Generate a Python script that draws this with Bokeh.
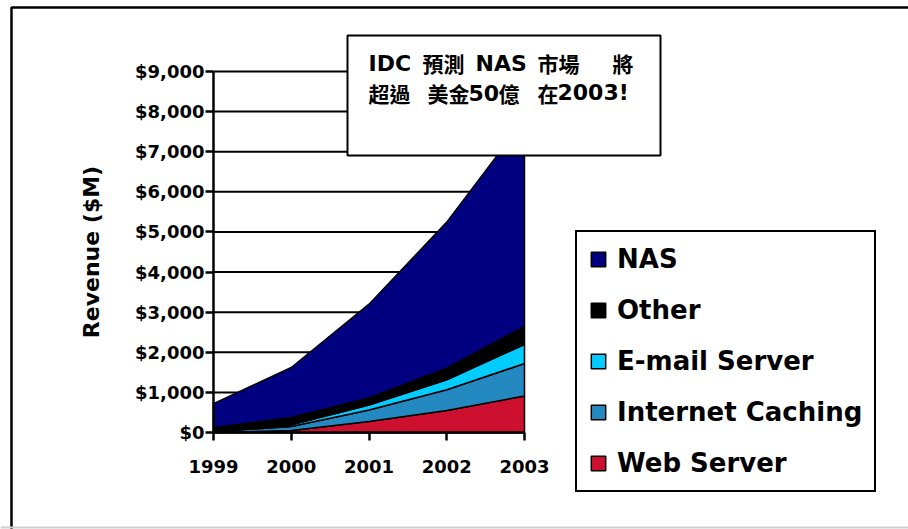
from bokeh.plotting import figure
from bokeh.models import (Range1d, NumeralTickFormatter, FixedTicker, Legend, LegendItem,
                          BoxAnnotation, Label, Span)
from bokeh.embed import file_html
from bokeh.resources import INLINE

# ---- data ($M) ----
years = [1999, 2000, 2001, 2002, 2003]
web_server = [0, 50, 275, 550, 910]
internet_caching = [20, 100, 285, 515, 810]
email_server = [10, 40, 125, 250, 475]
other = [90, 185, 175, 290, 450]
nas = [600, 1245, 2340, 3640, 5160]

series_names = ["Web Server", "Internet Caching", "E-mail Server", "Other", "NAS"]
series_values = [web_server, internet_caching, email_server, other, nas]
series_colors = ["#CE1030", "#2389C0", "#00CCFF", "#000000", "#000080"]

y_ticks = [0, 1000, 2000, 3000, 4000, 5000, 6000, 7000, 8000, 9000]

note_line1 = ["IDC", "預測", "NAS", "市場", "將"]
note_line2 = ["超過", "美金", "50", "億", "在", "2003!"]

LATIN = "DejaVu Sans"
CJK = "Noto Sans CJK TC"

# ---- layout: the frame fills the whole canvas, axes are pinned inside it ----
W, H = 908, 529
AX_LEFT_PX, AX_BOTTOM_PX = 213, 432          # where 1999 / $0 sit
X_PPU = 77.75                                # px per year
Y_PPU = 361.0 / 9000                         # px per $M
x_start = years[0] - AX_LEFT_PX / X_PPU
x_end = x_start + W / X_PPU
y_start = -(H - AX_BOTTOM_PX) / Y_PPU
y_end = y_start + H / Y_PPU

def px_x(px):
    return x_start + px / X_PPU

def px_y(py):
    return y_start + (H - py) / Y_PPU

p = figure(width=W, height=H, output_backend="svg", toolbar_location=None,
           x_range=Range1d(x_start, x_end), y_range=Range1d(y_start, y_end),
           min_border=0)
p.background_fill_color = "white"
p.border_fill_color = "white"
p.outline_line_color = None
p.xgrid.visible = False
p.ygrid.visible = False

# horizontal gridlines between first and last year
p.segment(x0=years[0], x1=years[-1], y0=y_ticks, y1=y_ticks, line_color="black", line_width=2)

# stacked areas as outlined patches
renderers = {}
bottom = [0] * len(years)
for name, vals, col in zip(series_names, series_values, series_colors):
    top = [b + v for b, v in zip(bottom, vals)]
    xs = years + years[::-1]
    ys = top + bottom[::-1]
    r = p.patch(xs, ys, fill_color=col, line_color="black", line_width=1.5)
    renderers[name] = r
    bottom = top

# axes
p.xaxis.fixed_location = 0
p.yaxis.fixed_location = years[0]
p.xaxis.bounds = (years[0], years[-1])
p.yaxis.bounds = (y_ticks[0], y_ticks[-1])
p.xaxis.ticker = FixedTicker(ticks=years)
p.xaxis.major_label_overrides = {y: str(y) for y in years}
p.yaxis.ticker = FixedTicker(ticks=y_ticks)
p.yaxis.formatter = NumeralTickFormatter(format="$0,0")
for ax in (p.xaxis[0], p.yaxis[0]):
    ax.axis_line_color = "black"
    ax.axis_line_width = 2.5
    ax.major_tick_line_color = "black"
    ax.major_tick_line_width = 2.5
    ax.major_tick_out = 8
    ax.major_tick_in = 0
    ax.minor_tick_line_color = None
    ax.major_label_text_font = LATIN
    ax.major_label_text_font_style = "bold"
    ax.major_label_text_font_size = "18px"
    ax.major_label_text_color = "black"
p.xaxis.major_label_standoff = 19
p.yaxis.major_label_standoff = 1
p.yaxis.axis_label = "Revenue ($M)"
p.yaxis.axis_label_text_font = LATIN
p.yaxis.axis_label_text_font_style = "bold"
p.yaxis.axis_label_text_font_size = "22px"
p.yaxis.axis_label_text_color = "black"
p.yaxis.axis_label_standoff = 28

# legend
items = [LegendItem(label=n, renderers=[renderers[n]]) for n in series_names[::-1]]
legend = Legend(items=items, location=(575, H - 492))
legend.label_text_font = LATIN
legend.label_text_font_style = "bold"
legend.label_text_font_size = "26px"
legend.label_text_color = "black"
legend.glyph_width = 18
legend.glyph_height = 18
legend.label_height = 30
legend.spacing = 21
legend.padding = 12
legend.margin = 0
legend.label_standoff = 10
legend.border_line_color = "black"
legend.border_line_alpha = 1
legend.border_line_width = 2
legend.background_fill_color = "white"
legend.background_fill_alpha = 1
p.add_layout(legend, "center")

# annotation box
p.add_layout(BoxAnnotation(left=px_x(347), right=px_x(660), top=px_y(35), bottom=px_y(155),
                           fill_color="white", fill_alpha=1,
                           line_color="black", line_alpha=1, line_width=2))
line1_x = [368, 422, 475, 537, 612]
line2_x = [368, 427, 468, 498, 537, 557]
for txt, xx in zip(note_line1, line1_x):
    latin = txt.isascii()
    p.add_layout(Label(x=px_x(xx), y=px_y(62.5), text=txt,
                       text_font=LATIN if latin else CJK, text_font_style="bold",
                       text_font_size="22px" if latin else "21px",
                       text_baseline="middle", text_align="left", text_color="black"))
for txt, xx in zip(note_line2, line2_x):
    latin = txt.isascii()
    p.add_layout(Label(x=px_x(xx), y=px_y(92), text=txt,
                       text_font=LATIN if latin else CJK, text_font_style="bold",
                       text_font_size="22px" if latin else "21px",
                       text_baseline="middle", text_align="left", text_color="black"))

# outer slide frame
p.add_layout(BoxAnnotation(left=px_x(11), right=px_x(W + 50), top=px_y(7), bottom=px_y(H + 50),
                           fill_alpha=0, line_color="black", line_alpha=1, line_width=2.5))
p.add_layout(Span(location=px_y(527), dimension="width", line_color="#d0d0d0", line_width=2))

open("out.html", "w").write(file_html(p, INLINE))
